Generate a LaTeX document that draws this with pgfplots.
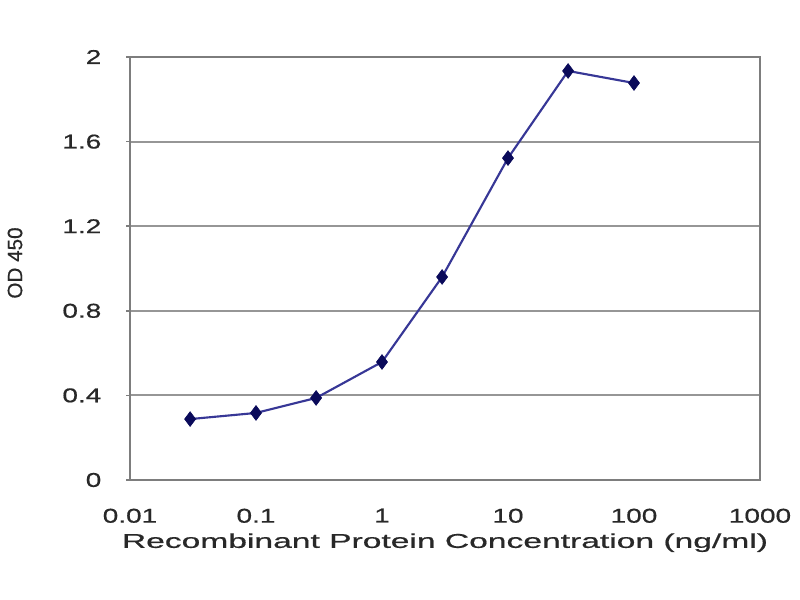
\documentclass[border=0pt]{standalone}
\usepackage{pgfplots}
\pgfplotsset{compat=1.18}
\usepackage{fontspec}
\setmainfont{Liberation Sans}[FakeStretch=1.4, FakeBold=0.6]
\newfontfamily\plainsans{Liberation Sans}[FakeBold=0.6]
\definecolor{gridgray}{RGB}{150,150,150}
\definecolor{boxgray}{RGB}{125,125,125}
\definecolor{linenavy}{RGB}{55,55,150}
\definecolor{marknavy}{RGB}{10,10,90}
\definecolor{txt}{RGB}{40,40,40}
\begin{document}
\begin{tikzpicture}
\useasboundingbox (0,0) rectangle (600pt,450pt);
\begin{axis}[
  at={(97.5pt,90pt)}, anchor=south west,
  scale only axis, width=472.5pt, height=317.25pt,
  xmode=log, log basis x=10,
  xmin=0.01, xmax=1000, ymin=0, ymax=2,
  xtick={0.01,0.1,1,10,100,1000},
  xticklabels={\mbox{0.01},\mbox{0.1},\mbox{1},\mbox{10},\mbox{100},\mbox{1000}},
  ytick={0,0.4,0.8,1.2,1.6,2},
  yticklabels={\mbox{0},\mbox{0.4},\mbox{0.8},\mbox{1.2},\mbox{1.6},\mbox{2}},
  /pgf/number format/assume math mode=true,
  minor xtick={}, xminorgrids=false,
  ymajorgrids, xmajorgrids=false,
  ytick pos=left,
  grid style={draw=gridgray, line width=1.5pt},
  axis line style={draw=boxgray, line width=1.8pt},
  tick style={draw=boxgray, line width=1.2pt},
  tick align=outside, major tick length=3pt,
  xtick style={draw=none},
  tick label style={font=\fontsize{15}{18}\selectfont, text=txt},
  xticklabel style={yshift=-15pt},
  yticklabel style={xshift=-15pt},
  xlabel={\scalebox{1.2}[1]{Recombinant Protein Concentration (ng/ml)}},
  xlabel style={font=\fontsize{15}{18}\selectfont, text=txt, yshift=-1pt},
  ylabel={\plainsans\fontsize{15.5}{18}\selectfont OD 450},
  ylabel style={text=txt,
    at={(axis description cs:-0.1825,0.513)}, rotate=0, anchor=center},
]
\addplot[color=linenavy, line width=1.6pt, mark=diamond*, mark size=5.5pt,
  mark options={fill=marknavy, draw=marknavy, line width=0.5pt}]
  coordinates {
  (0.03,0.288) (0.1,0.317) (0.3,0.388) (1,0.558)
  (3,0.960) (10,1.522) (30,1.934) (100,1.877)
  };
\end{axis}
\end{tikzpicture}
\end{document}
